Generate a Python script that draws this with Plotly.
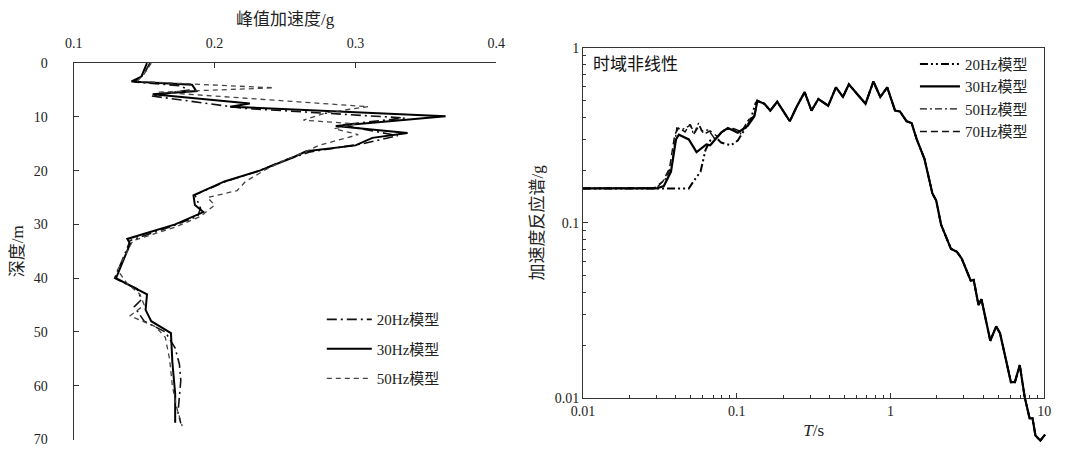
import plotly.graph_objects as go

W, H = 1071, 463

# ---------------- Left panel data: peak acceleration profile ----------------
depth_20 = [0, 2, 3.5, 4.2, 5.0, 6.1, 8.4, 10.2, 11.5, 12.5, 13.5, 15, 16.5, 18, 20, 22, 24.5, 27,
            28.5, 30.5, 33, 35, 38, 40, 42, 44, 45.3, 48, 50, 53, 56, 59, 62, 65, 67]
pga_20 = [0.154, 0.150, 0.143, 0.175, 0.182, 0.155, 0.220, 0.335, 0.290, 0.310, 0.330, 0.305, 0.268,
          0.250, 0.232, 0.208, 0.186, 0.190, 0.188, 0.168, 0.140, 0.137, 0.132, 0.129, 0.145, 0.148,
          0.143, 0.150, 0.165, 0.172, 0.175, 0.176, 0.175, 0.174, 0.176]

depth_30 = [0, 2.5, 3.4, 4.0, 5.2, 5.8, 7.5, 8.1, 9.9, 11.7, 13.0, 13.9, 15.3, 16.4, 17.5, 20, 22,
            24.6, 26.4, 27.7, 30, 32.7, 33.6, 38.1, 40, 43, 45.9, 48, 50.2, 55.6, 61.5, 66.9]
pga_30 = [0.152, 0.148, 0.141, 0.184, 0.187, 0.156, 0.225, 0.211, 0.364, 0.286, 0.337, 0.312, 0.300,
          0.265, 0.256, 0.232, 0.207, 0.185, 0.186, 0.192, 0.172, 0.138, 0.140, 0.133, 0.130, 0.152,
          0.151, 0.155, 0.169, 0.170, 0.172, 0.172]

depth_50 = [0, 2, 3.4, 4.6, 5.4, 6.7, 8.1, 9.2, 10.6, 11.3, 12.2, 13.3, 15.3, 16.8, 18, 20, 22, 23.7,
            25, 26.4, 28.5, 30.5, 33, 36, 38.5, 41, 43, 45, 47, 49, 51, 55, 60, 64, 67.5]
pga_50 = [0.155, 0.150, 0.145, 0.242, 0.160, 0.232, 0.309, 0.280, 0.263, 0.300, 0.285, 0.302, 0.274,
          0.262, 0.250, 0.235, 0.222, 0.216, 0.195, 0.200, 0.190, 0.172, 0.142, 0.136, 0.131, 0.138,
          0.147, 0.150, 0.140, 0.158, 0.165, 0.168, 0.170, 0.173, 0.177]

left_names = ["20Hz模型", "30Hz模型", "50Hz模型"]
depth_ticks = [0, 10, 20, 30, 40, 50, 60, 70]
pga_ticks = [0.1, 0.2, 0.3, 0.4]

# ---------------- Right panel data: acceleration response spectra ----------------
T_tail = [0.136, 0.151, 0.165, 0.183, 0.221, 0.245, 0.276, 0.306, 0.339, 0.393, 0.441, 0.490, 0.535,
          0.687, 0.773, 0.857, 0.951, 1.069, 1.15, 1.27, 1.37, 1.48, 1.66, 1.87, 1.98, 2.13, 2.47,
          2.70, 2.90, 3.32, 3.47, 3.73, 3.90, 4.45, 4.86, 5.15, 6.06, 6.43, 6.92, 7.45, 8.02, 8.38,
          8.75, 9.42, 10.1]
Sa_tail = [0.497, 0.478, 0.437, 0.491, 0.380, 0.460, 0.557, 0.437, 0.509, 0.466, 0.593, 0.523, 0.617,
           0.478, 0.641, 0.523, 0.593, 0.437, 0.432, 0.380, 0.371, 0.299, 0.232, 0.147, 0.134, 0.0975,
           0.071, 0.0683, 0.0625, 0.0467, 0.0472, 0.0339, 0.0366, 0.0212, 0.0256, 0.0234, 0.0123,
           0.0123, 0.0154, 0.0101, 0.00765, 0.00765, 0.0061, 0.00571, 0.00617]

T_head_20 = [0.01, 0.0487, 0.0524, 0.0581, 0.0625, 0.0671, 0.0735, 0.079, 0.0875, 0.0917, 0.1014,
             0.1125, 0.1227, 0.132]
Sa_head_20 = [0.157, 0.157, 0.173, 0.196, 0.260, 0.295, 0.306, 0.287, 0.280, 0.277, 0.295, 0.339,
              0.385, 0.478]

T_head_30 = [0.01, 0.0299, 0.0335, 0.0373, 0.0402, 0.042, 0.0487, 0.0547, 0.0634, 0.0671, 0.079,
             0.0875, 0.1014, 0.1175, 0.130]
Sa_head_30 = [0.157, 0.157, 0.162, 0.196, 0.299, 0.318, 0.299, 0.253, 0.280, 0.277, 0.327, 0.348,
              0.327, 0.357, 0.405]

T_head_50 = [0.01, 0.030, 0.0347, 0.0378, 0.0407, 0.044, 0.050, 0.0524, 0.0564, 0.0589, 0.0653,
             0.0723, 0.080, 0.0917, 0.105, 0.1175, 0.130]
Sa_head_50 = [0.157, 0.158, 0.180, 0.214, 0.348, 0.340, 0.361, 0.318, 0.371, 0.335, 0.339, 0.299,
              0.330, 0.348, 0.320, 0.380, 0.410]

T_head_70 = [0.01, 0.029, 0.033, 0.0365, 0.0395, 0.042, 0.046, 0.0495, 0.053, 0.057, 0.061, 0.067,
             0.075, 0.083, 0.095, 0.108, 0.12, 0.130]
Sa_head_70 = [0.157, 0.158, 0.172, 0.205, 0.320, 0.350, 0.330, 0.365, 0.325, 0.360, 0.320, 0.335,
              0.310, 0.340, 0.345, 0.330, 0.390, 0.400]

right_names = ["20Hz模型", "30Hz模型", "50Hz模型", "70Hz模型"]
T_ticks = [0.01, 0.1, 1, 10]
T_ticktext = ["0.01", "0.1", "1", "10"]
Sa_ticks = [0.01, 0.1, 1]
Sa_ticktext = ["0.01", "0.1", "1"]

# ---------------- layout geometry (pixels -> paper) ----------------
def px(x):
    return x / W

def py(y):
    return 1 - y / H

SERIF = "Liberation Serif, Noto Sans CJK SC, serif"
AX = "#333333"

# left panel box
L_x0, L_x1, L_y0, L_y1 = 63, 494, 58, 447
# right panel frame
R_x0, R_x1, R_y0, R_y1 = 582.5, 1053, 42, 404
dec_x = (R_x1 - R_x0) / 3.0   # pixels per decade (x)
dec_y = (R_y1 - R_y0) / 2.0   # pixels per decade (y)
# right data layer extends below the frame (curve runs out of the box)
D_x1, D_y1 = 1062, 463

fig = go.Figure()

left_styles = [
    dict(color="#111111", width=1.6, dash="10px,4px,2px,4px"),
    dict(color="#000000", width=2.0, dash="solid"),
    dict(color="#444444", width=1.3, dash="5px,4px"),
]
for name, d, a, st in zip(left_names, [depth_20, depth_30, depth_50],
                          [pga_20, pga_30, pga_50], left_styles):
    fig.add_trace(go.Scatter(x=a, y=d, mode="lines", name=name, line=st,
                             xaxis="x", yaxis="y", legend="legend", legendgroup="L" + name))

# empty trace so that the right-hand frame subplot is drawn
fig.add_trace(go.Scatter(x=[], y=[], mode="lines", xaxis="x2", yaxis="y2",
                         showlegend=False, hoverinfo="skip"))

right_styles = {
    "20Hz模型": dict(color="#000000", width=2.0, dash="8px,3px,2px,3px,2px,3px"),
    "30Hz模型": dict(color="#000000", width=2.2, dash="solid"),
    "50Hz模型": dict(color="#111111", width=1.4, dash="7px,3px,2px,3px"),
    "70Hz模型": dict(color="#111111", width=1.5, dash="7px,4px"),
}
heads = {
    "20Hz模型": (T_head_20, Sa_head_20),
    "30Hz模型": (T_head_30, Sa_head_30),
    "50Hz模型": (T_head_50, Sa_head_50),
    "70Hz模型": (T_head_70, Sa_head_70),
}
draw_order = ["70Hz模型", "50Hz模型", "20Hz模型", "30Hz模型"]
for name in draw_order:
    Th, Sh = heads[name]
    fig.add_trace(go.Scatter(x=list(Th) + T_tail, y=list(Sh) + Sa_tail, mode="lines", name=name,
                             line=right_styles[name], xaxis="x3", yaxis="y3", legend="legend2",
                             legendrank=right_names.index(name) + 1, legendgroup="R" + name))

tickfont = dict(family=SERIF, size=14, color="#222222")
titlefont = dict(family=SERIF, size=17, color="#222222")

fig.update_layout(
    width=W, height=H, autosize=False,
    margin=dict(l=0, r=0, t=0, b=0, pad=0),
    paper_bgcolor="white", plot_bgcolor="rgba(0,0,0,0)",
    font=dict(family=SERIF, size=14, color="#222222"),
    showlegend=True,
    # ---- left panel ----
    xaxis=dict(domain=[px(L_x0), px(L_x1)], range=[0.1, 0.4], side="top", anchor="y",
               tickvals=pga_ticks, ticktext=["0.1", "0.2", "0.3", "0.4"],
               ticks="inside", ticklen=5, tickcolor=AX, showline=True, linecolor=AX, linewidth=1.2,
               showgrid=False, zeroline=False, tickfont=tickfont, ticklabelstandoff=8,
               title=dict(text="峰值加速度/g", font=titlefont, standoff=6)),
    yaxis=dict(domain=[py(L_y1), py(L_y0)], range=[70, 0], anchor="x",
               tickvals=depth_ticks, ticks="inside", ticklen=5, tickcolor=AX,
               showline=True, linecolor=AX, linewidth=1.2, showgrid=False, zeroline=False,
               tickfont=tickfont, ticklabelstandoff=22,
               title=dict(text="深度/m", font=titlefont, standoff=5)),
    # ---- right panel frame ----
    xaxis2=dict(domain=[px(R_x0), px(R_x1)], type="log", range=[-2, 1], anchor="y2",
                tickmode="array", tickvals=T_ticks, ticktext=T_ticktext,
                ticks="inside", ticklen=5, tickcolor=AX,
                minor=dict(ticks="inside", ticklen=3, tickcolor=AX, dtick="D1", showgrid=False),
                showline=True, mirror=True, linecolor=AX, linewidth=1.2, showgrid=False,
                zeroline=False, tickfont=tickfont,
                title=dict(text="<i>T</i>/s", font=titlefont, standoff=6)),
    yaxis2=dict(domain=[py(R_y1), py(R_y0)], type="log", range=[-2, 0], anchor="x2",
                tickmode="array", tickvals=Sa_ticks, ticktext=Sa_ticktext,
                ticks="inside", ticklen=5, tickcolor=AX,
                minor=dict(ticks="inside", ticklen=3, tickcolor=AX, dtick="D1", showgrid=False),
                showline=True, mirror=True, linecolor=AX, linewidth=1.2, showgrid=False,
                zeroline=False, tickfont=tickfont,
                title=dict(text="加速度反应谱/g", font=titlefont, standoff=6)),
    # ---- right panel data layer (same scale, extended below frame) ----
    xaxis3=dict(domain=[px(R_x0), px(D_x1)], type="log",
                range=[-2, -2 + (D_x1 - R_x0) / dec_x], anchor="y3", visible=False),
    yaxis3=dict(domain=[py(D_y1), py(R_y0)], type="log",
                range=[-(D_y1 - R_y0) / dec_y, 0], anchor="x3", visible=False),
    legend=dict(x=px(316), y=py(306), xanchor="left", yanchor="top", bgcolor="rgba(0,0,0,0)",
                font=dict(family=SERIF, size=15), itemwidth=45, tracegroupgap=7,
                traceorder="grouped"),
    legend2=dict(x=px(921), y=py(42), xanchor="left", yanchor="top", bgcolor="rgba(0,0,0,0)",
                 font=dict(family=SERIF, size=15), itemwidth=40,
                 traceorder="normal"),
    annotations=[dict(text="时域非线性", x=px(591), y=py(57), xref="paper", yref="paper",
                      xanchor="left", yanchor="middle", showarrow=False,
                      font=dict(family="Noto Sans CJK SC", size=17, color="#111111"))],
)

fig.write_html("out.html")
